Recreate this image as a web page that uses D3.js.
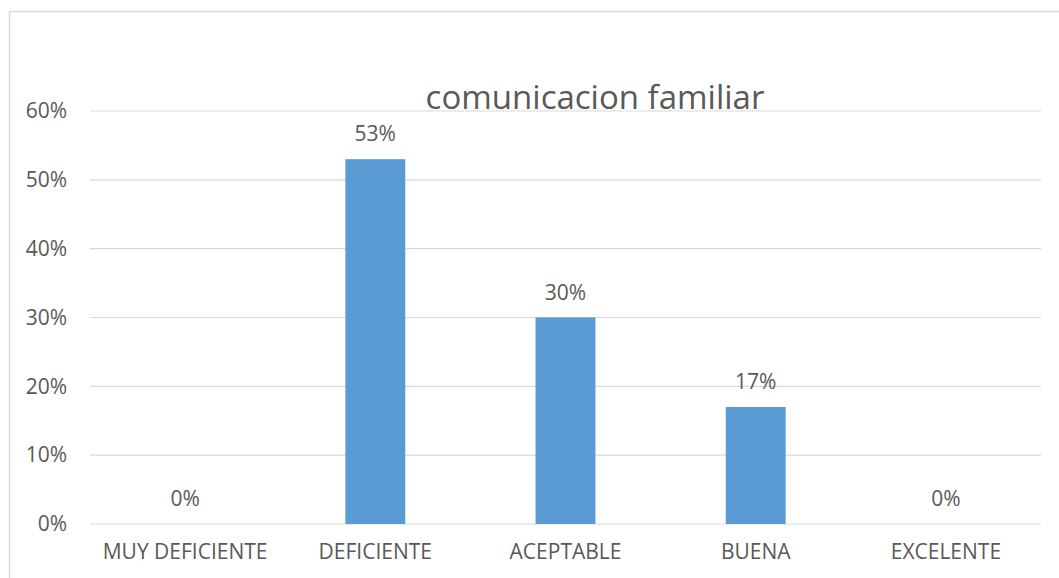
<!DOCTYPE html>
<html>
<head>
<meta charset="utf-8">
<script src="https://cdn.jsdelivr.net/npm/d3@7"></script>
<style>
    body { margin: 0; background: #fff; }
    text { font-family: "Open Sans", "Liberation Sans", sans-serif; fill: #595959; }
</style>
</head>
<body>
<svg id="chart"></svg>
<script>
const categories = ["MUY DEFICIENTE", "DEFICIENTE", "ACEPTABLE", "BUENA", "EXCELENTE"];
const values = [0, 0.53, 0.30, 0.17, 0];
const yTicks = [0, 0.1, 0.2, 0.3, 0.4, 0.5, 0.6];
const title = "comunicacion familiar";

const W = 1059, H = 578;
const margin = {top: 111, right: 18, bottom: 54, left: 90};
const width = W - margin.left - margin.right,
    height = H - margin.top - margin.bottom;

const svg = d3.select("#chart")
    .attr("width", W)
    .attr("height", H);

// outer chart border
svg.append("rect")
    .attr("x", 9.5).attr("y", 11.5)
    .attr("width", W + 10).attr("height", H + 10)
    .attr("fill", "none")
    .attr("stroke", "#d9d9d9")
    .attr("stroke-width", 1.5);

const g = svg.append("g")
    .attr("transform", `translate(${margin.left}, ${margin.top})`);

const x = d3.scaleBand().domain(categories).range([0, width]).paddingInner(0.685).paddingOuter(0.3425);
const y = d3.scaleLinear().domain([0, 0.6]).range([height, 0]);

// gridlines
g.selectAll(".grid")
    .data(yTicks)
    .enter().append("line")
    .attr("x1", 0).attr("x2", width)
    .attr("y1", d => y(d)).attr("y2", d => y(d))
    .attr("stroke", "#d9d9d9")
    .attr("stroke-width", 1.2);

// y axis labels
const yAxis = d3.axisLeft(y).tickValues(yTicks).tickFormat(d3.format(".0%")).tickSize(0).tickPadding(23);
g.append("g").call(yAxis)
    .call(s => s.select(".domain").remove())
    .selectAll("text")
    .style("font-size", "21px")
    .attr("fill", "#595959");

// x axis labels
const xAxis = d3.axisBottom(x).tickSize(0).tickPadding(20);
g.append("g")
    .attr("transform", `translate(0, ${height})`)
    .call(xAxis)
    .call(s => s.select(".domain").remove())
    .selectAll("text")
    .style("font-size", "21px")
    .attr("fill", "#595959");

// bars
g.selectAll(".bar")
    .data(values)
    .enter().append("rect")
    .attr("x", (d, i) => x(categories[i]))
    .attr("width", x.bandwidth())
    .attr("y", d => y(d))
    .attr("height", d => height - y(d))
    .attr("fill", "#5b9bd5");

// data labels
g.selectAll(".lbl")
    .data(values)
    .enter().append("text")
    .attr("x", (d, i) => x(categories[i]) + x.bandwidth() / 2)
    .attr("y", d => y(d) - 18)
    .attr("text-anchor", "middle")
    .style("font-size", "21px")
    .text(d => d3.format(".0%")(d));

// title
svg.append("text")
    .attr("x", 595).attr("y", 109)
    .attr("text-anchor", "middle")
    .style("font-size", "33px")
    .text(title);
</script>
</body>
</html>
